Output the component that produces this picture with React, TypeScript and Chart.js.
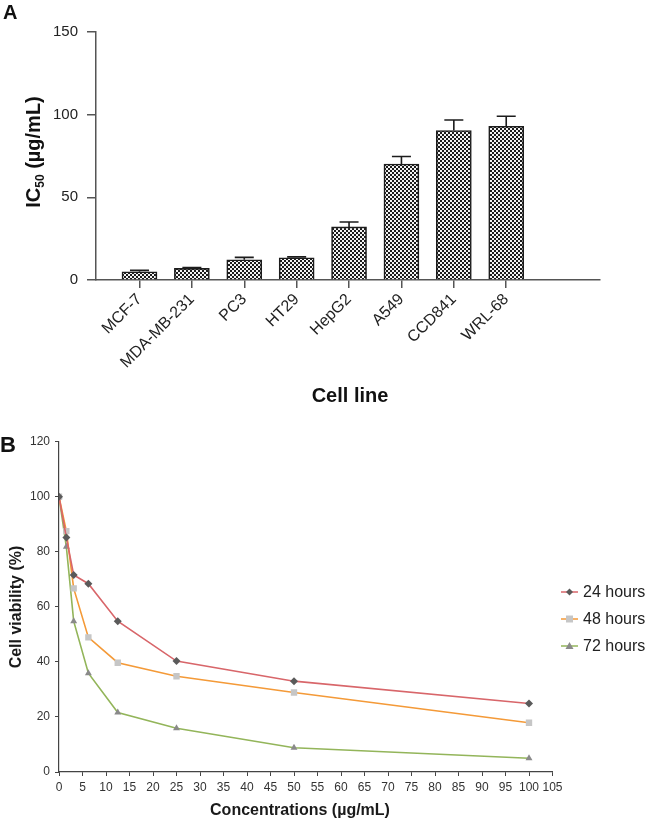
import React, { useEffect, useRef } from 'react';
import { Chart, registerables } from 'chart.js';

Chart.register(...registerables);

const FONT = '"Liberation Sans", Arial, Helvetica, sans-serif';

// ---- Panel A data ----
const cellLines = ['MCF-7', 'MDA-MB-231', 'PC3', 'HT29', 'HepG2', 'A549', 'CCD841', 'WRL-68'];
const ic50 = [5.0, 7.0, 12.2, 13.4, 32.1, 70.1, 90.4, 93.0];
const ic50Err = [0.8, 0.5, 1.5, 0.6, 3.0, 4.6, 6.4, 6.0];

// ---- Panel B data ----
const concentrations = [0, 1.5625, 3.125, 6.25, 12.5, 25, 50, 100];
const viability24 = [100, 85.2, 71.6, 68.4, 54.8, 40.3, 33.0, 24.9];
const viability48 = [100, 87.5, 66.7, 48.9, 39.7, 34.8, 28.9, 17.9];
const viability72 = [100, 81.8, 54.8, 35.9, 21.6, 15.9, 8.8, 5.0];
const seriesLabels = ['24 hours', '48 hours', '72 hours'];
const seriesColors = ['#d8666a', '#f49a38', '#93b55a'];
const markerColors = ['#5a5a5a', '#c6c6c6', '#8a8a8a'];
const markerStyles = ['rectRot', 'rect', 'triangle'];

function makePattern(): CanvasPattern | string {
  const tile = document.createElement('canvas');
  tile.width = 4;
  tile.height = 4;
  const g = tile.getContext('2d');
  if (!g) return '#777';
  g.fillStyle = '#f4f4f4';
  g.fillRect(0, 0, 4, 4);
  g.fillStyle = '#1c1c1c';
  g.fillRect(0, 0, 2, 2);
  g.fillRect(2, 2, 2, 2);
  const ctx = document.createElement('canvas').getContext('2d');
  const p = ctx ? ctx.createPattern(tile, 'repeat') : null;
  return p || '#777';
}

type Part = { text: string; size: number; dy: number };

function drawRotated(ctx: CanvasRenderingContext2D, parts: Part[], cx: number, cy: number, base: number, color: string) {
  ctx.save();
  ctx.translate(cx, cy);
  ctx.rotate(-Math.PI / 2);
  ctx.fillStyle = color;
  ctx.textAlign = 'left';
  ctx.textBaseline = 'alphabetic';
  const widths = parts.map((p) => {
    ctx.font = `bold ${p.size}px ${FONT}`;
    return ctx.measureText(p.text).width;
  });
  const total = widths.reduce((a, b) => a + b, 0);
  let x = -total / 2;
  parts.forEach((p, i) => {
    ctx.font = `bold ${p.size}px ${FONT}`;
    ctx.fillText(p.text, x, base + p.dy);
    x += widths[i];
  });
  ctx.restore();
}

function drawMarker(ctx: CanvasRenderingContext2D, style: string, x: number, y: number, color: string) {
  ctx.save();
  ctx.fillStyle = color;
  ctx.beginPath();
  if (style === 'rectRot') {
    ctx.moveTo(x, y - 3.5);
    ctx.lineTo(x + 3.5, y);
    ctx.lineTo(x, y + 3.5);
    ctx.lineTo(x - 3.5, y);
    ctx.closePath();
  } else if (style === 'rect') {
    ctx.rect(x - 3.5, y - 3.5, 7, 7);
  } else {
    ctx.moveTo(x, y - 4);
    ctx.lineTo(x + 4, y + 3);
    ctx.lineTo(x - 4, y + 3);
    ctx.closePath();
  }
  ctx.fill();
  ctx.restore();
}

export default function App() {
  const refA = useRef<HTMLCanvasElement | null>(null);
  const refB = useRef<HTMLCanvasElement | null>(null);

  useEffect(() => {
    if (!refA.current || !refB.current) return;
    Chart.defaults.font.family = FONT;

    const pattern = makePattern();

    const errorBars = {
      id: 'errorBars',
      afterDatasetsDraw(chart: any) {
        const ctx = chart.ctx as CanvasRenderingContext2D;
        const ys = chart.scales.y;
        const meta = chart.getDatasetMeta(0);
        ctx.save();
        ctx.strokeStyle = '#1c1c1c';
        ctx.lineWidth = 1.6;
        meta.data.forEach((bar: any, i: number) => {
          const x = bar.x;
          const yTop = ys.getPixelForValue(ic50[i]);
          const yErr = ys.getPixelForValue(ic50[i] + ic50Err[i]);
          ctx.beginPath();
          ctx.moveTo(x, yTop);
          ctx.lineTo(x, yErr);
          ctx.moveTo(x - 9.5, yErr);
          ctx.lineTo(x + 9.5, yErr);
          ctx.stroke();
        });
        ctx.restore();
      },
    };

    const textsA = {
      id: 'textsA',
      afterDraw(chart: any) {
        const ctx = chart.ctx as CanvasRenderingContext2D;
        ctx.save();
        ctx.fillStyle = '#111';
        ctx.font = `bold 20px ${FONT}`;
        ctx.textAlign = 'left';
        ctx.textBaseline = 'alphabetic';
        ctx.fillText('A', 3, 19);
        ctx.font = `bold 20px ${FONT}`;
        ctx.textAlign = 'center';
        ctx.fillText('Cell line', 350, 402);
        ctx.restore();
        drawRotated(
          ctx,
          [
            { text: 'IC', size: 20, dy: 0 },
            { text: '50', size: 12, dy: 4 },
            { text: ' (\u00b5g/mL)', size: 20, dy: 0 },
          ],
          33,
          152,
          7,
          '#111'
        );
      },
    };

    const chartA = new Chart(refA.current, {
      type: 'bar',
      data: {
        datasets: [
          {
            data: cellLines.map((_, i) => ({ x: i, y: ic50[i] })) as any,
            backgroundColor: pattern as any,
            borderColor: '#1c1c1c',
            borderWidth: 1.6,
            barThickness: 35,
            borderSkipped: 'bottom',
          },
        ],
      },
      options: {
        responsive: false,
        animation: false,
        layout: { padding: { top: 32, left: 0, right: 48, bottom: 0 } },
        plugins: { legend: { display: false }, tooltip: { enabled: false } },
        scales: {
          x: {
            type: 'linear',
            offset: false,
            min: -0.83,
            max: 8.79,
            afterBuildTicks: (s: any) => {
              s.ticks = cellLines.map((_, i) => ({ value: i }));
            },
            ticks: {
              callback: (v: any) => cellLines[v] ?? '',
              minRotation: 45,
              maxRotation: 45,
              autoSkip: false,
              font: { size: 16 },
              color: '#222',
              padding: 2,
            },
            grid: { offset: false, drawOnChartArea: false, tickLength: 8, color: '#555', lineWidth: 1.5 },
            border: { color: '#555', width: 1.5 },
            afterFit: (s: any) => {
              s.height = 140;
            },
          } as any,
          y: {
            min: 0,
            max: 150,
            ticks: { stepSize: 50, font: { size: 15 }, color: '#222', padding: 9 },
            grid: { drawOnChartArea: false, tickLength: 9, color: '#555', lineWidth: 1.5 },
            border: { color: '#555', width: 1.5 },
            afterFit: (s: any) => {
              s.width = 96;
            },
          } as any,
        },
      },
      plugins: [errorBars, textsA],
    });

    const textsB = {
      id: 'textsB',
      afterDraw(chart: any) {
        const ctx = chart.ctx as CanvasRenderingContext2D;
        ctx.save();
        ctx.fillStyle = '#111';
        ctx.font = `bold 22px ${FONT}`;
        ctx.textAlign = 'left';
        ctx.textBaseline = 'alphabetic';
        ctx.fillText('B', 0, 52);
        ctx.font = `bold 16px ${FONT}`;
        ctx.textAlign = 'center';
        ctx.fillStyle = '#1a1a1a';
        ctx.fillText('Concentrations (\u00b5g/mL)', 300, 415);
        // legend
        ctx.textAlign = 'left';
        ctx.textBaseline = 'middle';
        ctx.font = `16px ${FONT}`;
        seriesLabels.forEach((lab, i) => {
          const y = 192 + i * 27;
          ctx.strokeStyle = seriesColors[i];
          ctx.lineWidth = 1.5;
          ctx.beginPath();
          ctx.moveTo(561, y);
          ctx.lineTo(578, y);
          ctx.stroke();
          drawMarker(ctx, markerStyles[i], 569.5, y, markerColors[i]);
          ctx.fillStyle = '#222';
          ctx.fillText(lab, 583, y + 1);
        });
        ctx.restore();
        drawRotated(ctx, [{ text: 'Cell viability (%)', size: 16, dy: 0 }], 15, 207, 6, '#1a1a1a');
      },
    };

    const series = [viability24, viability48, viability72];

    const chartB = new Chart(refB.current, {
      type: 'line',
      data: {
        datasets: series.map((vals, si) => ({
          label: seriesLabels[si],
          data: concentrations.map((c, i) => ({ x: c, y: vals[i] })),
          borderColor: seriesColors[si],
          backgroundColor: markerColors[si],
          borderWidth: 1.6,
          pointStyle: markerStyles[si] as any,
          pointRadius: si === 1 ? 4.5 : 4,
          pointBackgroundColor: markerColors[si],
          pointBorderColor: markerColors[si],
          pointBorderWidth: 0,
          tension: 0,
          fill: false,
        })),
      },
      options: {
        responsive: false,
        animation: false,
        layout: { padding: { top: 41.7, left: 0, right: 95.5, bottom: 0 } },
        plugins: { legend: { display: false }, tooltip: { enabled: false } },
        scales: {
          x: {
            type: 'linear',
            min: 0,
            max: 105,
            ticks: { stepSize: 5, font: { size: 12 }, color: '#333', padding: 4, maxRotation: 0, autoSkip: false },
            grid: { drawOnChartArea: false, tickLength: 4, color: '#444', lineWidth: 1 },
            border: { color: '#444', width: 1.2 },
            afterFit: (s: any) => {
              s.height = 48;
            },
          } as any,
          y: {
            min: 0,
            max: 120,
            ticks: { stepSize: 20, font: { size: 12 }, color: '#333', padding: 5 },
            grid: { drawOnChartArea: false, tickLength: 4, color: '#444', lineWidth: 1 },
            border: { color: '#444', width: 1.2 },
            afterFit: (s: any) => {
              s.width = 59;
            },
          } as any,
        },
      },
      plugins: [textsB],
    });

    return () => {
      chartA.destroy();
      chartB.destroy();
    };
  }, []);

  return (
    <div style={{ position: 'absolute', left: 0, top: 0, width: 648, height: 820, background: '#fff', overflow: 'hidden' }}>
      <canvas ref={refA} width={648} height={420} style={{ position: 'absolute', left: 0, top: 0, width: 648, height: 420 }} />
      <canvas ref={refB} width={648} height={420} style={{ position: 'absolute', left: 0, top: 400, width: 648, height: 420 }} />
    </div>
  );
}
